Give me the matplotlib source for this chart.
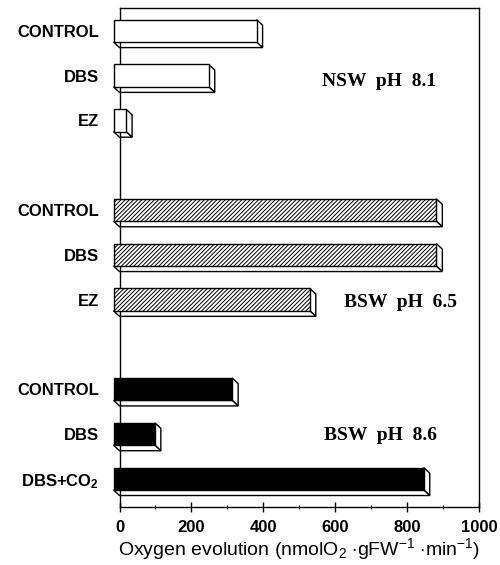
import matplotlib
matplotlib.use("Agg")
import matplotlib.pyplot as plt
from matplotlib.patches import Polygon
import numpy as np

plt.rcParams['font.family'] = ['Liberation Sans', 'DejaVu Sans']
plt.rcParams['mathtext.fontset'] = 'custom'
plt.rcParams['mathtext.rm'] = 'Liberation Sans'
plt.rcParams['mathtext.it'] = 'Liberation Sans'
plt.rcParams['mathtext.bf'] = 'Liberation Sans:bold'
plt.rcParams['hatch.linewidth'] = 0.7

# data (oxygen evolution, nmol O2 gFW-1 min-1)
labels = ['CONTROL', 'DBS', 'EZ',
          'CONTROL', 'DBS', 'EZ',
          'CONTROL', 'DBS', 'DBS+CO$_\\mathbf{2}$']
positions = [0, 1, 2, 4, 5, 6, 8, 9, 10]
values = [398, 265, 35,
          898, 898, 546,
          330, 115, 863]
group = ['nsw', 'nsw', 'nsw', 'bsw65', 'bsw65', 'bsw65', 'bsw86', 'bsw86', 'bsw86']
group_names = ['NSW  pH  8.1', 'BSW  pH  6.5', 'BSW  pH  8.6']
group_text_x = [564, 625, 569]
group_text_y = [1.14, 6.07, 9.04]

fig = plt.figure(figsize=(5, 5.65), dpi=100)
ax = fig.add_axes([0.239, 0.103, 0.719, 0.883])

dx = 16.6    # depth of the 3d bars, data units
dy = 0.123
h = 0.5

for p, v, g in zip(positions, values, group):
    if g == 'nsw':
        fc, hatch = 'white', None
    elif g == 'bsw65':
        fc, hatch = 'white', '////////'
    else:
        fc, hatch = 'black', None
    ax.barh(p, v, left=-dx, height=h, color=fc, edgecolor='black',
            linewidth=1.0, hatch=hatch, clip_on=False, zorder=3)
    # right side
    side = Polygon([(v - dx, p - h/2), (v, p - h/2 + dy), (v, p + h/2 + dy), (v - dx, p + h/2)],
                   closed=True, facecolor='white', edgecolor='black', linewidth=1.0,
                   clip_on=False, zorder=2)
    ax.add_patch(side)
    # bottom side
    bot = Polygon([(-dx, p + h/2), (v - dx, p + h/2), (v, p + h/2 + dy), (0, p + h/2 + dy)],
                  closed=True, facecolor='white', edgecolor='black', linewidth=1.0,
                  clip_on=False, zorder=2)
    ax.add_patch(bot)

for name, tx, ty in zip(group_names, group_text_x, group_text_y):
    ax.text(tx, ty, name, family='Liberation Serif', fontweight='bold', fontsize=14,
            ha='left', va='center')

ax.set_xlim(0, 1000)
ax.set_ylim(10.625, -0.513)
ax.set_xticks(np.arange(0, 1001, 200))
ax.set_xticks(np.arange(100, 1000, 200), minor=True)
ax.tick_params(axis='x', which='major', direction='inout', length=7, width=1, pad=6)
ax.tick_params(axis='x', which='minor', direction='inout', length=3, width=0.8)
for t in ax.get_xticklabels():
    t.set_fontweight('bold')
    t.set_fontsize(12)

ax.set_yticks(positions)
ax.set_yticklabels(labels, fontweight='bold', fontsize=12)
ax.tick_params(axis='y', length=0, pad=14.5)

for s in ax.spines.values():
    s.set_linewidth(1.0)

ax.set_xlabel('Oxygen evolution (nmolO$_2$ $\\cdot$gFW$^{-1}$ $\\cdot$min$^{-1}$)',
              fontsize=14, labelpad=1)

fig.savefig('out.png', dpi=100, facecolor='white')
